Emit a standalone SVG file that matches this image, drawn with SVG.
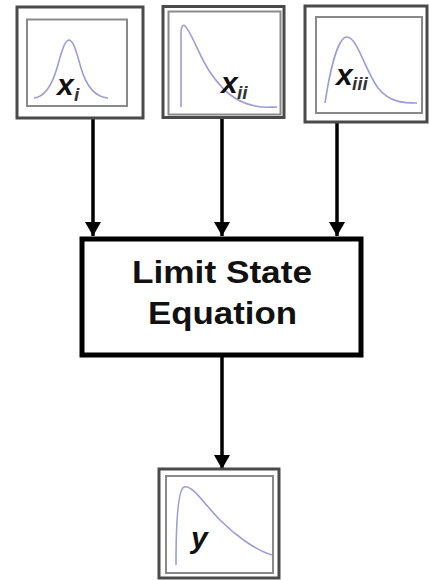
<svg xmlns="http://www.w3.org/2000/svg" width="429" height="580" viewBox="0 0 429 580">
  <style>
    .outer { fill: #ffffff; stroke: #4a4a4a; stroke-width: 3; }
    .inner { fill: none; stroke: #8a8a8a; stroke-width: 2; }
    .pdf { fill: none; stroke: #9c9cd6; stroke-width: 1.6; stroke-linejoin: round; }
    .var { font-family: "Liberation Sans", Arial, sans-serif; font-weight: bold; font-style: italic; fill: #111111; }
    .sub { font-family: "Liberation Sans", Arial, sans-serif; font-weight: bold; font-style: italic; fill: #333333; }
    .eq { font-family: "Liberation Sans", Arial, sans-serif; font-weight: bold; fill: #111111; text-anchor: middle; }
    .link { stroke: #000000; stroke-width: 3.5; fill: none; marker-end: url(#head); }
  </style>
  <defs>
    <marker id="head" markerUnits="userSpaceOnUse" markerWidth="16" markerHeight="16" refX="14" refY="8" orient="auto">
      <path d="M0,0 L14,8 L0,16 Z" fill="#000000"/>
    </marker>
  </defs>

  <rect width="429" height="580" fill="#ffffff"/>

  <!-- connectors -->
  <g id="connectors">
    <line class="link" x1="93" y1="118" x2="93" y2="236"/>
    <line class="link" x1="222" y1="118" x2="222" y2="236"/>
    <line class="link" x1="337" y1="122" x2="337" y2="236"/>
    <line class="link" x1="222" y1="357" x2="222" y2="469"/>
  </g>

  <!-- input variable x_i (normal distribution) -->
  <g id="node-xi">
    <rect class="outer" x="17" y="7" width="126" height="111"/>
    <rect class="inner" x="27" y="19.5" width="100" height="86.5"/>
    <path class="pdf" d="M34,98 C45,97 52,85 57,68 C62,50 65,40 69,40 C73,40 76,50 81,68 C86,85 94,97 108,98"/>
    <text class="var" x="57" y="95" font-size="30">x</text>
    <text class="sub" x="74" y="101" font-size="19">i</text>
  </g>

  <!-- input variable x_ii (exponential-like) -->
  <g id="node-xii">
    <rect class="outer" x="163" y="6.5" width="121" height="111"/>
    <rect class="inner" x="168.5" y="11.5" width="112" height="103"/>
    <path class="pdf" d="M181,107 L181,35 C181,26 183,24 185,26 C192,33 200,58 210,72 C222,90 235,102 255,106 C265,108 270,107 277,107"/>
    <text class="var" x="221" y="93" font-size="30">x</text>
    <text class="sub" x="237" y="99" font-size="19">ii</text>
  </g>

  <!-- input variable x_iii (skewed distribution) -->
  <g id="node-xiii">
    <rect class="outer" x="305" y="6" width="122" height="116"/>
    <rect class="inner" x="316" y="17" width="106" height="96"/>
    <path class="pdf" d="M325,103 C330,70 338,37 347,37 C357,37 365,70 378,88 C390,103 405,103 417,103"/>
    <text class="var" x="336" y="85" font-size="30">x</text>
    <text class="sub" x="352" y="90" font-size="19">iii</text>
  </g>

  <!-- limit state function -->
  <g id="node-lse">
    <rect x="82" y="239" width="279" height="116" fill="#ffffff" stroke="#000000" stroke-width="5"/>
    <text class="eq" x="222" y="283" font-size="32" textLength="180" lengthAdjust="spacingAndGlyphs">Limit State</text>
    <text class="eq" x="222.5" y="324" font-size="32" textLength="149" lengthAdjust="spacingAndGlyphs">Equation</text>
  </g>

  <!-- output response y -->
  <g id="node-y">
    <rect class="outer" x="159" y="469" width="120" height="109"/>
    <rect class="inner" x="166" y="476" width="107" height="97"/>
    <path class="pdf" d="M176,565 C176,520 178,490 184,487 C192,484 205,505 220,520 C235,535 255,550 272,555"/>
    <text class="var" x="191" y="548" font-size="30">y</text>
  </g>
</svg>
